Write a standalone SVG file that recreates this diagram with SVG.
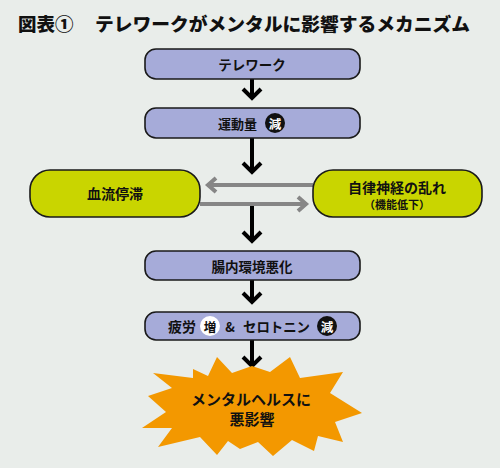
<svg xmlns="http://www.w3.org/2000/svg" width="500" height="471" viewBox="0 0 500 471">
<defs>
<style>
text{font-family:"Noto Sans CJK JP","Noto Sans CJK SC",sans-serif;font-weight:700;fill:#111;dominant-baseline:central}
.pb{fill:#a6abd9;stroke:#1a1a1a;stroke-width:1.6}
.gb{fill:#c9d500;stroke:#1a1a1a;stroke-width:1.6}
.ar{fill:none;stroke:#000;stroke-width:4}
.ga{fill:none;stroke:#868686;stroke-width:4}
.t{font-size:13.5px;text-anchor:middle}
.bk{fill:#111}
.wt{fill:#fff;font-size:12.5px;text-anchor:middle}
.ti{font-size:18.5px;font-weight:900}
</style>
</defs>
<rect x="0" y="0" width="500" height="468" fill="#e9edea"/>
<rect x="0" y="468" width="500" height="3" fill="#fff"/>
<g id="title">
<text class="ti" x="18" y="23">図表①</text>
<text class="ti" x="95" y="23" textLength="375" lengthAdjust="spacingAndGlyphs">テレワークがメンタルに影響するメカニズム</text>
</g>
<g id="connectors">
<path class="ar" d="M252 79V97M243 89L252 98L261 89"/>
<path class="ar" d="M252 138V171M243 163L252 172L261 163"/>
<path class="ga" d="M313 185H208M216 178L208 185L216 192"/>
<path class="ga" d="M200 204H306M298 197L306 204L298 211"/>
<path class="ar" d="M252 206V240M243 232L252 241L261 232"/>
<path class="ar" d="M252 280V301M243 293L252 302L261 293"/>
<path class="ar" d="M252 340V365M243 357L252 366L261 357"/>
</g>
<g id="n1">
<rect class="pb" x="145" y="49" width="215" height="30" rx="11"/>
<text class="t" x="252" y="64">テレワーク</text>
</g>
<g id="n2">
<rect class="pb" x="145" y="108" width="215" height="30" rx="11"/>
<text x="218" y="123" style="font-size:13px">運動量</text>
<circle class="bk" cx="275" cy="123" r="10"/>
<text class="wt" x="275" y="123">減</text>
</g>
<g id="n3">
<rect class="gb" x="30" y="170" width="170" height="47" rx="20"/>
<text x="115" y="193" style="font-size:14px;text-anchor:middle">血流停滞</text>
</g>
<g id="n4">
<rect class="gb" x="313" y="170" width="169" height="47" rx="20"/>
<text x="397" y="187" style="font-size:14px;text-anchor:middle">自律神経の乱れ</text>
<text x="397" y="204" style="font-size:11px;text-anchor:middle">（機能低下）</text>
</g>
<g id="n5">
<rect class="pb" x="145" y="251" width="215" height="29" rx="11"/>
<text class="t" x="252" y="265.5">腸内環境悪化</text>
</g>
<g id="n6">
<rect class="pb" x="145" y="312" width="215" height="28" rx="11"/>
<text x="168" y="326" style="font-size:14px">疲労</text>
<circle cx="210" cy="326" r="10" fill="#fff"/>
<text x="210" y="326" style="font-size:12.5px;text-anchor:middle">増</text>
<text x="230" y="326" style="font-size:13px;text-anchor:middle">&amp;</text>
<text x="243" y="326" style="font-size:13.5px" textLength="67" lengthAdjust="spacingAndGlyphs">セロトニン</text>
<circle class="bk" cx="327" cy="326" r="10"/>
<text class="wt" x="327" y="326">減</text>
</g>
<g id="n7">
<polygon fill="#f39800" points="217,357 232,373 252,366 270,372 290,357 300,378 343,372 330,393 362,413 335,422 343,442 318,436 314,451 292,440 273,456 258,442 240,449 228,441 217,455 200,437 158,447 172,428 142,428 166,412 148,396 172,388 153,373 193,378 193,369 208,376"/>
<text x="251" y="398" style="font-size:15px;text-anchor:middle">メンタルヘルスに</text>
<text x="252" y="418" style="font-size:15px;text-anchor:middle">悪影響</text>
</g>
</svg>
